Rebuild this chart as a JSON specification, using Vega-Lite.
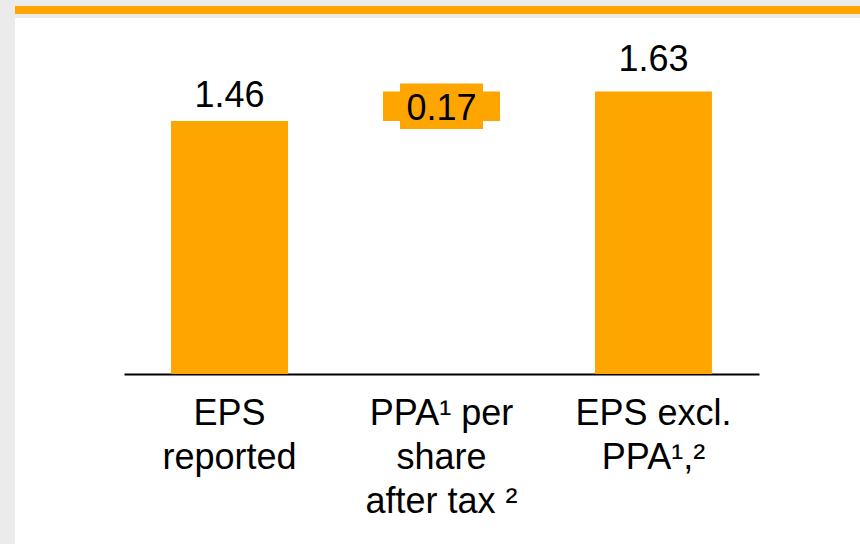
{
  "$schema": "https://vega.github.io/schema/vega-lite/v6.json",
  "background": "#ebebeb",
  "padding": {"left": 15, "top": 6, "right": 0, "bottom": 0},
  "spacing": 4,
  "config": {"font": "Liberation Sans"},
  "vconcat": [
    {
      "width": 845,
      "height": 8,
      "view": {"fill": "#FFA500", "stroke": null},
      "data": {"values": [{}]},
      "mark": {"type": "rect", "color": "#FFA500"},
      "encoding": {}
    },
    {
      "width": 845,
      "height": 526,
      "view": {"fill": "white", "stroke": null},
      "data": {"values": [
        {"cat": "EPS|reported", "start": 0, "end": 1.46, "label": "1.46", "kind": "total"},
        {"cat": "PPA¹ per|share|after tax ²", "start": 1.46, "end": 1.63, "label": "0.17", "kind": "delta"},
        {"cat": "EPS excl.|PPA¹,²", "start": 0, "end": 1.63, "label": "1.63", "kind": "total"}
      ]},
      "encoding": {
        "x": {
          "field": "cat", "type": "nominal", "sort": null,
          "scale": {"range": [109, 744], "paddingInner": 0.448, "paddingOuter": 0.222},
          "axis": {
            "title": null, "orient": "bottom", "offset": -170,
            "domainColor": "black", "domainWidth": 2, "ticks": false,
            "labelAngle": 0, "labelFont": "Liberation Sans", "labelFontSize": 36,
            "labelColor": "black", "labelBaseline": "alphabetic", "labelLineHeight": 44,
            "labelPadding": 50, "labelLimit": 0, "labelOverlap": false,
            "labelExpr": "split(datum.label, '|')"
          }
        },
        "y": {
          "field": "start", "type": "quantitative",
          "scale": {"domain": [-0.981, 2.054], "nice": false, "zero": false},
          "axis": null
        }
      },
      "layer": [
        {
          "mark": {"type": "bar", "color": "#FFA500"},
          "encoding": {"y2": {"field": "end"}}
        },
        {
          "transform": [{"filter": "datum.kind == 'delta'"}],
          "mark": {"type": "bar", "color": "#FFA500", "width": 83, "yOffset": 8, "y2Offset": -8},
          "encoding": {"y2": {"field": "end"}}
        },
        {
          "transform": [{"filter": "datum.label == '1.46'"}],
          "mark": {"type": "text", "fontSize": 36, "color": "black", "baseline": "alphabetic", "dy": -14, "font": "Liberation Sans"},
          "encoding": {"y": {"field": "end", "type": "quantitative"}, "text": {"field": "label"}}
        },
        {
          "transform": [{"filter": "datum.label == '1.63'"}],
          "mark": {"type": "text", "fontSize": 36, "color": "black", "baseline": "alphabetic", "dy": -20, "font": "Liberation Sans"},
          "encoding": {"y": {"field": "end", "type": "quantitative"}, "text": {"field": "label"}}
        },
        {
          "transform": [{"filter": "datum.kind == 'delta'"}],
          "mark": {"type": "text", "fontSize": 36, "color": "black", "baseline": "alphabetic", "dy": -1, "font": "Liberation Sans"},
          "encoding": {"text": {"field": "label"}}
        }
      ]
    }
  ]
}
